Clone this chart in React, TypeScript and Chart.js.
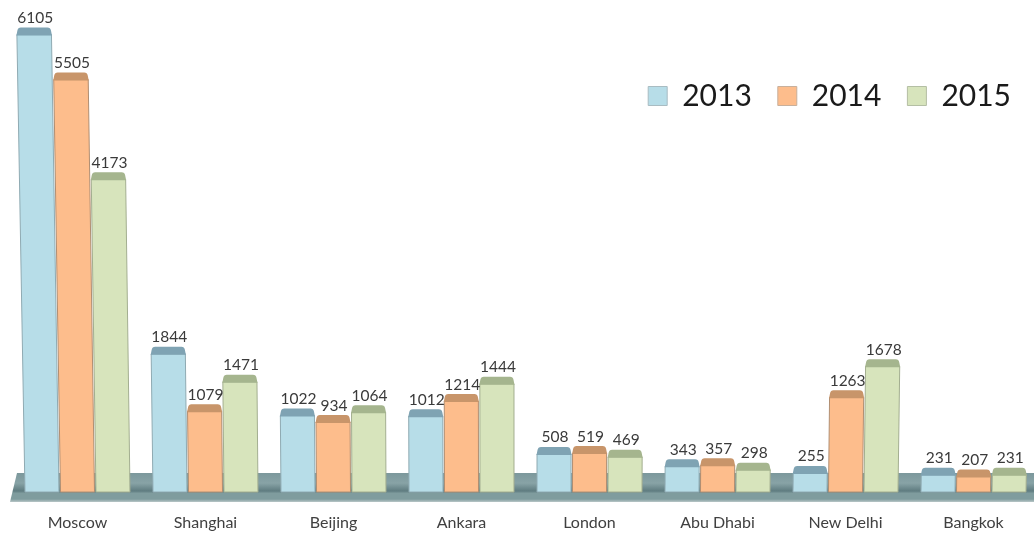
import React, { useEffect, useRef } from "react";
import { Chart, registerables } from "chart.js";

Chart.register(...registerables);

const cities = ["Moscow", "Shanghai", "Beijing", "Ankara", "London", "Abu Dhabi", "New Delhi", "Bangkok"];
const values2013 = [6105, 1844, 1022, 1012, 508, 343, 255, 231];
const values2014 = [5505, 1079, 934, 1214, 519, 357, 1263, 207];
const values2015 = [4173, 1471, 1064, 1444, 469, 298, 1678, 231];

const FRONT = ["#B7DDE8", "#FDBD8C", "#D7E4BC"];
const CAP = ["#7FA3B3", "#C8956A", "#A5B58E"];
const EDGE = ["#8FAAB2", "#B08E72", "#A3AE90"];
const FONT = "Lato, 'Open Sans', sans-serif";
const CAP_H = 7;
const VANISH_X = 517;
const LEAN = 3.6e-5;

const lean = (x: number, h: number) => VANISH_X + (x - VANISH_X) * (1 + LEAN * h);

const scenePlugin = {
  id: "scene",
  beforeLayout(chart: any) {
    const legend = chart.legend;
    if (legend && !legend.__patched) {
      const fit = legend.fit;
      legend.fit = function () {
        fit.call(this);
        this.height = 0;
      };
      legend.__patched = true;
    }
  },
  afterLayout(chart: any) {
    const legend = chart.legend;
    if (legend) {
      legend.top = 55;
      legend.bottom = 134;
      legend.left = 0;
      legend.right = 1037;
    }
  },
  beforeDatasetsDraw(chart: any) {
    const { ctx, chartArea, width } = chart;
    const base = chartArea.bottom;
    ctx.save();
    const g = ctx.createLinearGradient(0, base - 19, 0, base + 10);
    g.addColorStop(0, "#7C989C");
    g.addColorStop(0.35, "#88A3A6");
    g.addColorStop(0.62, "#5F7C80");
    g.addColorStop(0.7, "#7F9C9E");
    g.addColorStop(0.9, "#7F9C9E");
    g.addColorStop(1, "#B9C6C7");
    ctx.fillStyle = g;
    ctx.beginPath();
    ctx.moveTo(17, base - 19);
    ctx.lineTo(width, base - 19);
    ctx.lineTo(width, base + 10);
    ctx.lineTo(10, base + 10);
    ctx.closePath();
    ctx.fill();
    ctx.restore();
  },
  beforeDatasetDraw(chart: any, args: any) {
    const { ctx } = chart;
    const i = args.index;
    const meta = chart.getDatasetMeta(i);
    ctx.save();
    meta.data.forEach((bar: any, j: number) => {
      const w = bar.width;
      const h = bar.base - bar.y;
      const l0 = bar.x - w / 2;
      const r0 = bar.x + w / 2;
      const lt = lean(l0, h);
      const rt = lean(r0, h);
      // front face
      ctx.fillStyle = FRONT[i];
      ctx.strokeStyle = EDGE[i];
      ctx.lineWidth = 1;
      ctx.beginPath();
      ctx.moveTo(l0, bar.base);
      ctx.lineTo(lt, bar.y);
      ctx.lineTo(rt, bar.y);
      ctx.lineTo(r0, bar.base);
      ctx.closePath();
      ctx.fill();
      ctx.stroke();
      // top cap
      ctx.fillStyle = CAP[i];
      ctx.beginPath();
      ctx.moveTo(lt - 0.5, bar.y + 1);
      ctx.lineTo(lt + 0.5, bar.y - CAP_H + 3);
      ctx.quadraticCurveTo(lt + 1, bar.y - CAP_H, lt + 4, bar.y - CAP_H);
      ctx.lineTo(rt - 4, bar.y - CAP_H);
      ctx.quadraticCurveTo(rt - 1, bar.y - CAP_H, rt - 0.5, bar.y - CAP_H + 3);
      ctx.lineTo(rt + 0.5, bar.y + 1);
      ctx.closePath();
      ctx.fill();
      // value label
      ctx.fillStyle = "#3A3A3A";
      ctx.font = "15.5px " + FONT;
      ctx.textAlign = "center";
      ctx.textBaseline = "middle";
      const value = chart.data.datasets[i].data[j];
      ctx.fillText(String(value), (lt + rt) / 2 + 1, bar.y - CAP_H - 9.5);
    });
    ctx.restore();
    return false;
  },
};

export default function App() {
  const ref = useRef<HTMLCanvasElement>(null);
  useEffect(() => {
    if (!ref.current) return;
    const chart = new Chart(ref.current, {
      type: "bar",
      data: {
        labels: cities,
        datasets: [
          { label: "2013", data: values2013, backgroundColor: FRONT[0], borderColor: "#A9BCC2", borderWidth: 1 },
          { label: "2014", data: values2014, backgroundColor: FRONT[1], borderColor: "#C8B09C", borderWidth: 1 },
          { label: "2015", data: values2015, backgroundColor: FRONT[2], borderColor: "#B4BFA4", borderWidth: 1 },
        ],
      },
      options: {
        responsive: false,
        animation: false,
        layout: { padding: { left: 13.5, right: 7.5, top: 5, bottom: 0 } },
        datasets: { bar: { categoryPercentage: 0.832, barPercentage: 0.958 } },
        plugins: {
          tooltip: { enabled: false },
          legend: {
            display: true,
            position: "top",
            align: "end",
            labels: {
              boxWidth: 19,
              boxHeight: 19,
              padding: 26,
              color: "#1A1A1A",
              font: { family: FONT, size: 30 },
            },
          },
        },
        scales: {
          x: {
            grid: { display: false, drawTicks: false },
            border: { display: false },
            afterFit: (scale: any) => { scale.height = 41; },
            ticks: { color: "#404040", padding: 21, font: { family: FONT, size: 16 }, maxRotation: 0 },
          },
          y: { display: false, min: 0, max: 6500 },
        },
      },
      plugins: [scenePlugin],
    } as any);
    return () => chart.destroy();
  }, []);
  return (
    <div style={{ position: "fixed", left: 0, top: 0, width: 1034, height: 533, overflow: "hidden", background: "#fff" }}>
      <canvas ref={ref} width={1045} height={533} style={{ display: "block", filter: "blur(0.4px)" }} />
    </div>
  );
}
